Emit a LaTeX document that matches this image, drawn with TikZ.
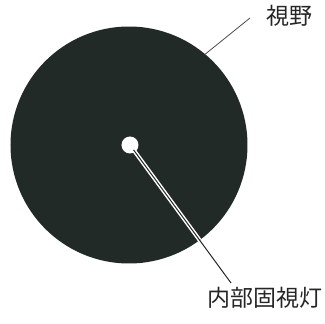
\documentclass[tikz,border=0pt]{standalone}
\usepackage{fontspec}
\usetikzlibrary{calc}
\newfontfamily\jpfont{Noto Sans CJK JP}
\definecolor{fielddark}{HTML}{212A26}
\begin{document}
\begin{tikzpicture}[x=1pt,y=1pt,
  lbl/.style={font=\jpfont\fontsize{23}{26}\selectfont, inner sep=0pt, text=black!85},
  leader/.style={draw=black!70, line width=0.8pt}]
\useasboundingbox (0,0) rectangle (325,-324);
\node[circle, fill=fielddark, minimum size=237pt, inner sep=0pt] (field) at (129,-145) {};
\node[lbl] (lblfield) at (289,-16) {視野};
\coordinate (fend) at (250,-18);
\draw[leader] (field.50) -- (fend);
\node[circle, fill=white, minimum size=17pt, inner sep=0pt] (lamp) at (130,-145) {};
\coordinate (lend) at (231,-283);
\begin{scope}
  \clip (129,-145) circle (118.5pt);
  \draw[white, line width=4pt] (lamp.center) -- (lend);
\end{scope}
\draw[black!85, line width=1pt, shorten <=6pt] (lamp.center) -- (lend);
\node[lbl] (lbllamp) at (265,-298) {内部固視灯};
\end{tikzpicture}
\end{document}
